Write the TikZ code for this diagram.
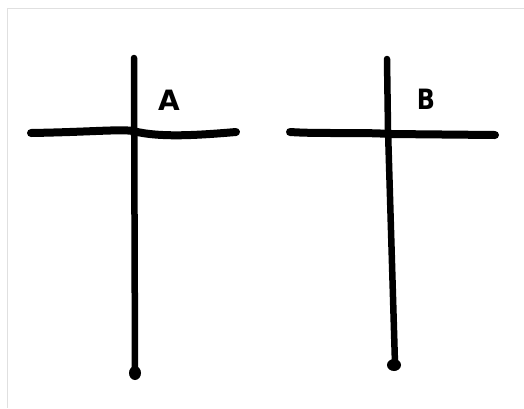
\documentclass[tikz,border=0pt]{standalone}
\usepackage{fontspec}
\setsansfont{DejaVu Sans}
\begin{document}
\begin{tikzpicture}[x=1pt,y=-1pt,
  bar/.style={line width=8pt,line cap=round},
  post/.style={line width=6.5pt,line cap=round},
  lbl/.style={font=\sffamily\bfseries\fontsize{28}{28}\selectfont,inner sep=0pt}]
\useasboundingbox (0,0) rectangle (524,408);
\fill[white] (0,0) rectangle (524,408);
\draw[black!12,line width=1pt] (7,408) -- (7,8) -- (524,8);
% cross A
\coordinate (aT) at (134,58);
\coordinate (aB) at (135,372);
\coordinate (aL) at (31,133);
\coordinate (aR) at (236,132);
\coordinate (aM) at (133,131);
\draw[post] (aT) -- (aB);
\draw[bar] (aL) .. controls (90,132) and (120,129) .. (aM) .. controls (160,138) and (200,135) .. (aR);
\fill (135,373) ellipse (6pt and 7pt);
\node[lbl] (la) at (169,100) {A};
% cross B
\coordinate (bT) at (387,59);
\coordinate (bB) at (395,364);
\coordinate (bL) at (290,132);
\coordinate (bR) at (495,135);
\coordinate (bM) at (390,134);
\draw[post] (bT) -- (388,130) -- (bB);
\draw[bar] (bL) .. controls (320,134) and (360,132) .. (bM) -- (bR);
\fill (394,365) ellipse (7pt and 6pt);
\node[lbl,xscale=0.85] (lb) at (426,99) {B};
\end{tikzpicture}
\end{document}
